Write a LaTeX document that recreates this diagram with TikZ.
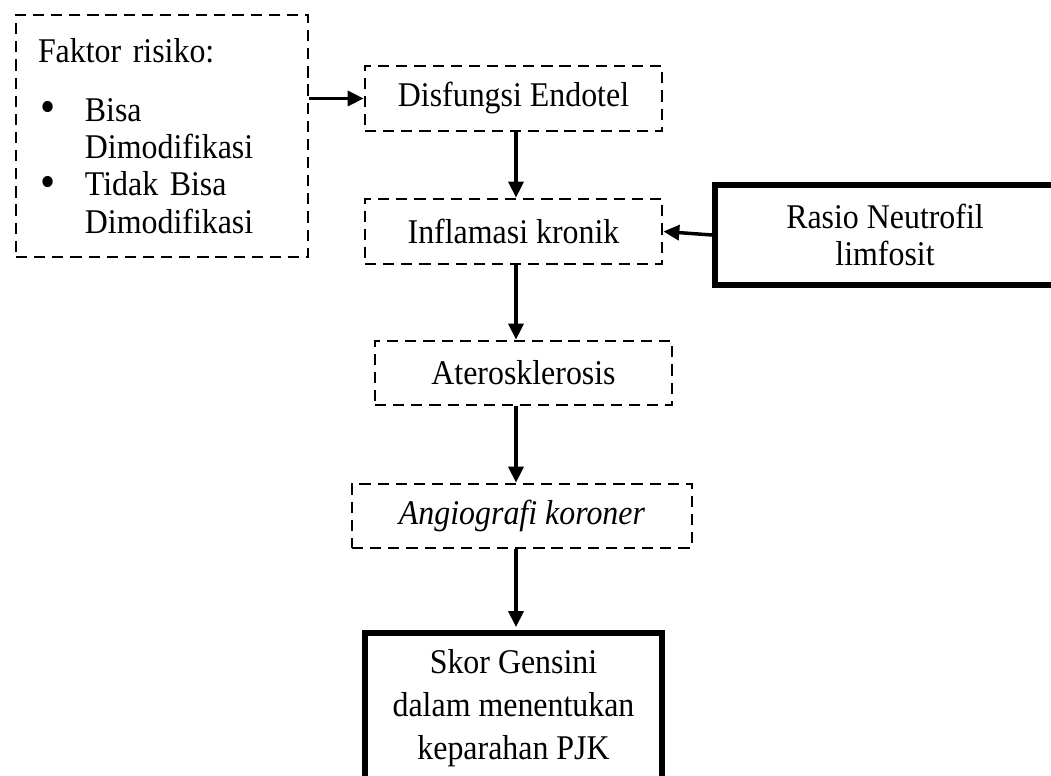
\documentclass[tikz,border=0pt]{standalone}
\usepackage{fontspec}
\setmainfont{Liberation Serif}[FakeStretch=0.92]
\usepackage{tikz}
\usetikzlibrary{arrows.meta}
\newlength{\pxu}\setlength{\pxu}{0.375pt}
\newcommand{\bul}{\raisebox{-0.6pt}{\scalebox{1.35}{•}}}

\begin{document}
\begin{tikzpicture}[x=\pxu,y=-\pxu,-,>={Triangle[length=6pt,width=5.6pt]},line width=1.3pt,
  font=\fontsize{13}{14}\selectfont,
  dash node/.style={draw,dash pattern=on 4.2pt off 2.6pt,line width=1pt,inner sep=0pt},
  bold node/.style={draw,line width=2.2pt,inner sep=0pt,align=center}]

  \useasboundingbox (0,0) rectangle (1051,776);
  \coordinate (axis) at (516,0);

  \node[dash node,minimum width=292\pxu,minimum height=242\pxu,text width=93pt,align=left] (faktor) at (162,136)
    {Faktor risiko:\\[8pt]
     \makebox[17.6pt][l]{\hspace{1pt}\bul}Bisa\\
     \hspace*{17.6pt}Dimodifikasi\\
     \makebox[17.6pt][l]{\hspace{1pt}\bul}Tidak Bisa\\
     \hspace*{17.6pt}Dimodifikasi};
  \node[dash node,minimum width=297\pxu,minimum height=65\pxu] (disf) at (513.5,98.5) {Disfungsi Endotel};
  \node[dash node,minimum width=297\pxu,minimum height=65\pxu] (inflam) at (513.5,231.5) {Inflamasi kronik};
  \node[bold node,minimum width=340\pxu,minimum height=100\pxu] (rasio) at (885,235) {Rasio Neutrofil\\limfosit};
  \node[dash node,minimum width=297\pxu,minimum height=64\pxu] (ater) at (523.5,373) {Aterosklerosis};
  \node[dash node,minimum width=340\pxu,minimum height=64\pxu] (angio) at (522,516) {\textit{Angiografi koroner}};
  \node[bold node,minimum width=297\pxu,minimum height=150\pxu,font=\fontsize{13}{16}\selectfont] (skor) at (513.5,708)
    {Skor Gensini\\dalam menentukan\\keparahan PJK};

  \draw[->] (faktor.east |- disf.west) -- (disf.west);
  \draw[->] (disf.south -| axis) -- (inflam.north -| axis);
  \draw[->] (rasio.west) -- (inflam.east);
  \draw[->] (inflam.south -| axis) -- (ater.north -| axis);
  \draw[->] (ater.south -| axis) -- (angio.north -| axis);
  \draw[->,shorten >=1.1pt] (angio.south -| axis) -- (skor.north -| axis);
\end{tikzpicture}
\end{document}
